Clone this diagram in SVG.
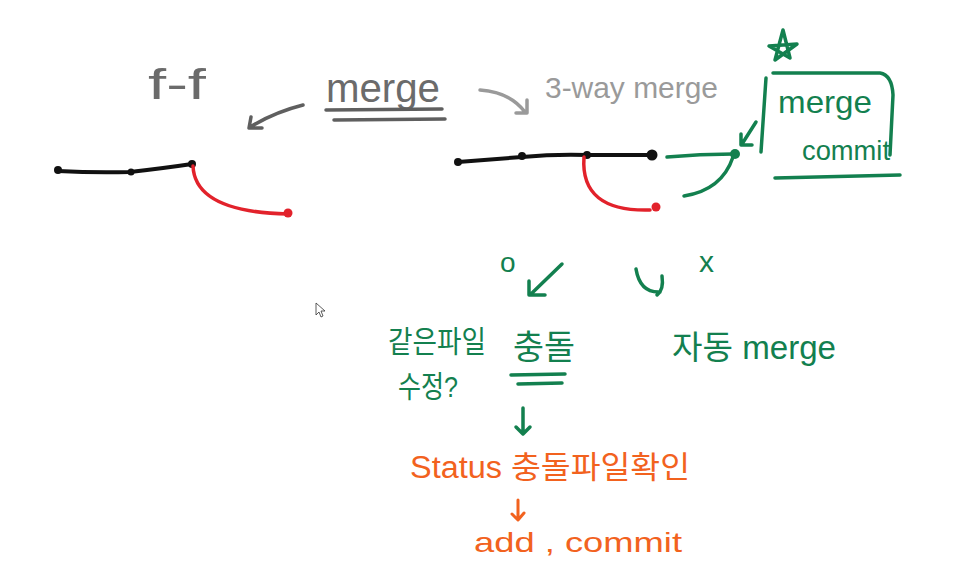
<svg xmlns="http://www.w3.org/2000/svg" width="955" height="578" viewBox="0 0 955 578">
<style>
.g{fill:#6b6b6b;font-family:"Liberation Sans","Noto Sans CJK KR",sans-serif}
.lg{fill:#9a9a9a;font-family:"Liberation Sans","Noto Sans CJK KR",sans-serif}
.gr{fill:#13804f;font-family:"Liberation Sans","Noto Sans CJK KR",sans-serif}
.or{fill:#f2621e;font-family:"Liberation Sans","Noto Sans CJK KR",sans-serif}
.s{fill:none;stroke-linecap:round;stroke-linejoin:round}
.sk{stroke:#111;stroke-width:4}
.sr{stroke:#e2222b;stroke-width:3.5}
.sg{stroke:#13804f;stroke-width:3.5}
.sgy{stroke:#5f5f5f;stroke-width:3.5}
.slg{stroke:#9a9a9a;stroke-width:3.5}
.so{stroke:#f2621e;stroke-width:3}
</style>
<rect width="955" height="578" fill="#ffffff"/>
<g id="title">
<text class="g" x="148" y="99" font-size="42" textLength="58" lengthAdjust="spacingAndGlyphs">f-f</text>
<text class="g" x="326" y="102" font-size="40" textLength="114" lengthAdjust="spacingAndGlyphs">merge</text>
<path class="s sgy" d="M326 110 L442 109 M334 120 L445 119"/>
<text class="lg" x="545" y="98" font-size="30" textLength="173" lengthAdjust="spacingAndGlyphs">3-way merge</text>
</g>
<g id="ff-graph">
<path class="s sk" d="M58 171 Q95 173 130 172 Q165 168 192 164"/>
<circle cx="58" cy="170" r="4" fill="#111"/>
<circle cx="131" cy="172" r="3.5" fill="#111"/>
<circle cx="192" cy="164" r="4" fill="#111"/>
<path class="s sr" d="M193 166 Q195 212 288 214"/>
<circle cx="288" cy="213" r="4.5" fill="#e2222b"/>
</g>
<g id="threeway-graph">
<path class="s sk" d="M458 162 L522 157 Q555 154 587 155 L652 155"/>
<circle cx="458" cy="162" r="4" fill="#111"/>
<circle cx="522" cy="156" r="4" fill="#111"/>
<circle cx="587" cy="155" r="4" fill="#111"/>
<circle cx="652" cy="155" r="5.5" fill="#111"/>
<path class="s sr" d="M584 157 Q580 212 650 210"/>
<circle cx="656" cy="207" r="4.5" fill="#e2222b"/>
<path class="s sg" d="M667 157 Q700 154 733 154"/>
<path class="s sg" d="M684 196 Q722 190 733 157"/>
<circle cx="735" cy="154" r="5" fill="#13804f"/>
</g>
<g id="merge-commit">
<path class="s sg" d="M775 60 L783 30 L790 58 L769 46 L797 44 Z"/>
<path class="s sg" d="M773 73 L880 73 Q892 75 893 95 L890 155"/>
<path class="s sg" d="M766 78 L761 152"/>
<path class="s sg" d="M775 178 L900 175"/>
<path class="s sg" d="M756 122 L742 144 M741 134 L741 145 L752 145"/>
<text class="gr" x="778" y="113" font-size="32" textLength="94" lengthAdjust="spacingAndGlyphs">merge</text>
<text class="gr" x="802" y="160" font-size="28" textLength="88" lengthAdjust="spacingAndGlyphs">commit</text>
</g>
<g id="branches">
<text class="gr" x="500" y="272" font-size="28">o</text>
<text class="gr" x="699" y="272" font-size="30">x</text>
<text class="gr" x="388" y="352" font-size="30" textLength="98" lengthAdjust="spacingAndGlyphs">같은파일</text>
<text class="gr" x="398" y="397" font-size="30" textLength="60" lengthAdjust="spacingAndGlyphs">수정?</text>
<text class="gr" x="513" y="359" font-size="34" textLength="62" lengthAdjust="spacingAndGlyphs">충돌</text>
<path class="s sg" d="M511 375 L565 374 M518 384 L562 383"/>
<text class="gr" x="672" y="359" font-size="33" textLength="164" lengthAdjust="spacingAndGlyphs">자동 merge</text>
</g>
<g id="resolve">
<text class="or" x="410" y="478" font-size="31" textLength="280" lengthAdjust="spacingAndGlyphs">Status 충돌파일확인</text>
<text class="or" x="474" y="552" font-size="28" textLength="208" lengthAdjust="spacingAndGlyphs">add , commit</text>
</g>
<g id="connectors">
<path class="s sgy" d="M303 105 Q275 112 250 127 M251 117 L249 128 L262 128"/>
<path class="s slg" d="M480 90 Q510 92 525 112 M527 100 L527 113 L516 113"/>
<path class="s sg" d="M562 264 L531 294 M529 281 L529 295 L545 295"/>
<path class="s sg" d="M636 269 Q640 293 660 292 M662 276 Q664 290 657 295"/>
<path class="s sg" d="M523 408 L523 433 M516 427 L523 434 L530 427"/>
<path class="s so" d="M518 500 L518 519 M512 514 L518 520 L524 513"/>
</g>
<g id="cursor">
<path d="M316 303 L316 315 L319 312 L321 317 L323 316 L321 311 L325 311 Z" fill="#fff" stroke="#333" stroke-width="0.8"/>
</g>
</svg>
